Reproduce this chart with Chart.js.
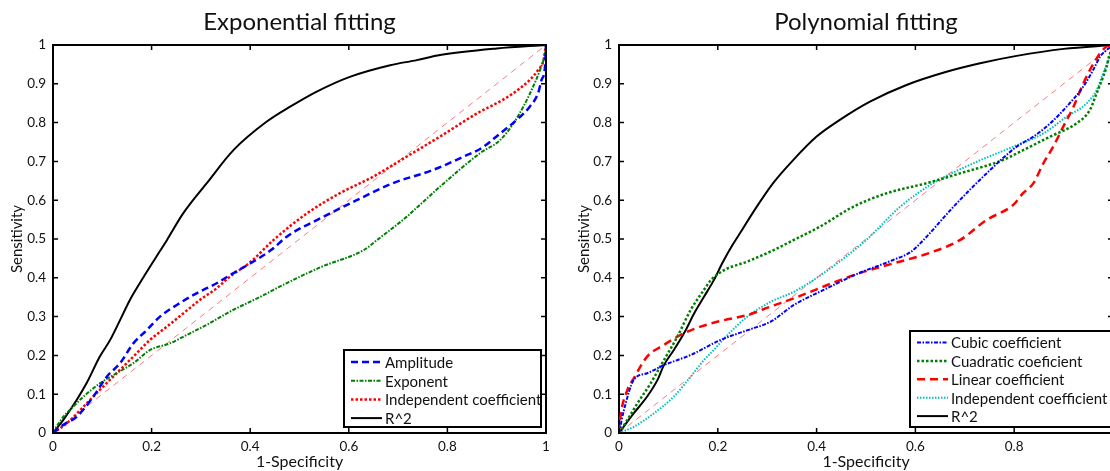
<!DOCTYPE html>
<html>
<head>
<meta charset="utf-8">
<script src="https://cdn.jsdelivr.net/npm/chart.js@4.4.0/dist/chart.umd.min.js"></script>
<style>
  html, body { margin: 0; padding: 0; background: #fff; overflow: hidden; }
  .box { position: absolute; top: 0; height: 471px; }
  #left { left: 0; width: 560px; }
  #right { left: 560px; width: 560px; }
</style>
</head>
<body>
<div class="box" id="left"><canvas id="expChart"></canvas></div>
<div class="box" id="right"><canvas id="polyChart"></canvas></div>
<script>
// tick values
var xTicks = [0, 0.2, 0.4, 0.6, 0.8, 1];
var yTicks = [0, 0.1, 0.2, 0.3, 0.4, 0.5, 0.6, 0.7, 0.8, 0.9, 1];
var diagonal = [[0, 0], [1, 1]];

// exponential fitting curves [1-specificity, sensitivity]
var expAmplitude = [[0,0],[0.021,0.021],[0.048,0.042],[0.082,0.094],[0.109,0.145],[0.136,0.18],[0.163,0.231],[0.19,0.265],[0.217,0.3],[0.251,0.33],[0.291,0.36],[0.332,0.386],[0.359,0.407],[0.4,0.437],[0.443,0.472],[0.474,0.506],[0.548,0.557],[0.616,0.6],[0.69,0.644],[0.771,0.678],[0.834,0.713],[0.87,0.735],[0.905,0.77],[0.945,0.812],[0.967,0.841],[0.984,0.876],[0.991,0.91],[0.998,0.944],[1,1]];
var expExponent = [[0,0],[0.007,0.016],[0.021,0.042],[0.041,0.068],[0.062,0.094],[0.095,0.128],[0.129,0.154],[0.163,0.18],[0.197,0.214],[0.237,0.231],[0.278,0.257],[0.318,0.283],[0.359,0.313],[0.414,0.347],[0.472,0.385],[0.544,0.428],[0.631,0.472],[0.657,0.497],[0.717,0.557],[0.785,0.635],[0.866,0.721],[0.907,0.755],[0.934,0.798],[0.954,0.841],[0.974,0.893],[0.988,0.936],[0.998,0.979],[1,1]];
var expIndependent = [[0,0],[0.028,0.025],[0.062,0.068],[0.095,0.111],[0.129,0.154],[0.163,0.197],[0.197,0.24],[0.231,0.274],[0.264,0.308],[0.298,0.343],[0.332,0.373],[0.359,0.403],[0.4,0.44],[0.447,0.497],[0.515,0.566],[0.582,0.618],[0.65,0.661],[0.717,0.712],[0.785,0.764],[0.866,0.828],[0.9,0.85],[0.934,0.876],[0.967,0.91],[0.984,0.936],[0.995,0.961],[1,1]];
var expR2 = [[0,0],[0.021,0.034],[0.048,0.085],[0.068,0.128],[0.095,0.197],[0.116,0.24],[0.136,0.291],[0.156,0.343],[0.176,0.386],[0.197,0.429],[0.215,0.465],[0.231,0.497],[0.264,0.566],[0.312,0.644],[0.366,0.729],[0.433,0.802],[0.481,0.841],[0.535,0.88],[0.602,0.918],[0.684,0.948],[0.738,0.961],[0.785,0.974],[0.9,0.991],[1,1]];

// polynomial fitting curves
var polyCubic = [[0,0],[0.01,0.059],[0.03,0.137],[0.057,0.154],[0.091,0.175],[0.145,0.201],[0.206,0.24],[0.26,0.265],[0.307,0.287],[0.354,0.33],[0.413,0.368],[0.484,0.411],[0.555,0.446],[0.591,0.467],[0.616,0.497],[0.677,0.583],[0.744,0.669],[0.805,0.738],[0.839,0.764],[0.873,0.798],[0.906,0.841],[0.94,0.893],[0.96,0.936],[0.974,0.97],[0.991,0.991],[1,1]];
var polyQuadratic = [[0,0],[0.017,0.034],[0.037,0.076],[0.064,0.128],[0.091,0.188],[0.118,0.248],[0.145,0.317],[0.172,0.369],[0.186,0.394],[0.213,0.42],[0.26,0.442],[0.314,0.472],[0.353,0.497],[0.407,0.532],[0.474,0.583],[0.542,0.618],[0.623,0.644],[0.69,0.669],[0.778,0.704],[0.818,0.729],[0.873,0.764],[0.926,0.798],[0.953,0.832],[0.967,0.876],[0.98,0.918],[0.987,0.944],[0.991,0.966],[1,1]];
var polyLinear = [[0,0],[0.003,0.042],[0.017,0.111],[0.03,0.141],[0.057,0.197],[0.091,0.227],[0.125,0.253],[0.165,0.274],[0.213,0.291],[0.26,0.304],[0.307,0.326],[0.354,0.347],[0.413,0.377],[0.484,0.411],[0.555,0.437],[0.626,0.463],[0.69,0.497],[0.744,0.549],[0.798,0.588],[0.818,0.618],[0.839,0.644],[0.859,0.695],[0.879,0.738],[0.899,0.789],[0.92,0.841],[0.94,0.901],[0.957,0.944],[0.974,0.979],[0.987,0.996],[1,1]];
var polyIndependent = [[0,0],[0.03,0.016],[0.071,0.051],[0.111,0.094],[0.145,0.145],[0.172,0.188],[0.192,0.214],[0.213,0.244],[0.26,0.3],[0.307,0.338],[0.354,0.364],[0.413,0.411],[0.5,0.497],[0.569,0.583],[0.636,0.644],[0.717,0.695],[0.798,0.738],[0.859,0.772],[0.906,0.815],[0.947,0.85],[0.967,0.884],[0.98,0.927],[0.991,0.961],[1,1]];
var polyR2 = [[0,0],[0.03,0.051],[0.057,0.094],[0.078,0.137],[0.091,0.175],[0.111,0.214],[0.135,0.265],[0.152,0.308],[0.172,0.351],[0.192,0.394],[0.21,0.44],[0.23,0.485],[0.25,0.525],[0.272,0.57],[0.312,0.644],[0.353,0.704],[0.4,0.764],[0.447,0.807],[0.508,0.854],[0.582,0.897],[0.663,0.931],[0.731,0.953],[0.805,0.972],[0.9,0.99],[1,1]];

var FONT = 'Lato, "Open Sans", sans-serif';

function pts(arr) {
    return arr.map(function (p) { return { x: p[0], y: p[1] }; });
}

function line(label, arr, color, width, dash) {
    return {
        label: label,
        data: pts(arr),
        borderColor: color,
        borderWidth: width,
        borderDash: dash,
        pointRadius: 0,
        cubicInterpolationMode: 'monotone',
        fill: false
    };
}

// box round the plot with inward ticks + legend box inside
var framePlugin = {
    id: 'frame',
    afterDraw: function (chart, args, opts) {
        var ctx = chart.ctx;
        var a = chart.chartArea;
        var xs = chart.scales.x, ys = chart.scales.y;
        ctx.save();
        ctx.strokeStyle = '#000';
        ctx.lineWidth = 2;
        ctx.beginPath();
        ctx.moveTo(a.left, a.top); ctx.lineTo(a.right, a.top); ctx.lineTo(a.right, a.bottom);
        ctx.stroke();
        ctx.lineWidth = 1.5;
        ctx.beginPath();
        xTicks.forEach(function (v) {
            var px = xs.getPixelForValue(v);
            ctx.moveTo(px, a.bottom); ctx.lineTo(px, a.bottom - 5);
            ctx.moveTo(px, a.top); ctx.lineTo(px, a.top + 5);
        });
        yTicks.forEach(function (v) {
            var py = ys.getPixelForValue(v);
            ctx.moveTo(a.left, py); ctx.lineTo(a.left + 5, py);
            ctx.moveTo(a.right, py); ctx.lineTo(a.right - 5, py);
        });
        ctx.stroke();

        // legend
        var L = opts;
        ctx.fillStyle = '#fff';
        ctx.fillRect(L.x, L.y, L.w, L.h);
        ctx.lineWidth = 2;
        ctx.strokeStyle = '#000';
        ctx.setLineDash([]);
        ctx.strokeRect(L.x, L.y, L.w, L.h);
        ctx.font = '15px ' + FONT;
        ctx.textBaseline = 'middle';
        ctx.textAlign = 'left';
        var items = chart.data.datasets.filter(function (d) { return d.label; });
        items.forEach(function (d, i) {
            var y = L.y + L.first + i * L.step;
            ctx.beginPath();
            ctx.setLineDash(d.borderDash || []);
            ctx.strokeStyle = d.borderColor;
            ctx.lineWidth = d.borderWidth;
            ctx.moveTo(L.x + 7, y); ctx.lineTo(L.x + 38, y);
            ctx.stroke();
            ctx.setLineDash([]);
            ctx.fillStyle = '#111';
            ctx.fillText(d.label, L.x + 41, y + 1);
        });
        ctx.restore();
    }
};

function tickLabel(v) {
    return String(Math.round(v * 10) / 10);
}

function makeOptions(title, yWidth, yTitlePad, rightPad, legend) {
    return {
        responsive: true,
        maintainAspectRatio: false,
        animation: false,
        layout: { padding: { left: 0, right: rightPad, top: 0, bottom: 0 } },
        plugins: {
            legend: { display: false },
            tooltip: { enabled: false },
            title: {
                display: true,
                text: title,
                fullSize: false,
                color: '#111',
                font: { family: FONT, size: 24, weight: 'normal', lineHeight: 1.2 },
                padding: { top: 8, bottom: 8.2 }
            },
            frame: legend
        },
        scales: {
            x: {
                type: 'linear',
                min: 0, max: 1,
                afterFit: function (s) { s.height = 38; s.paddingLeft = 0; s.paddingRight = 0; },
                afterBuildTicks: function (s) { s.ticks = xTicks.map(function (v) { return { value: v }; }); },
                grid: { drawOnChartArea: false, drawTicks: false },
                border: { color: '#000', width: 2 },
                ticks: { color: '#111', padding: 6, font: { family: FONT, size: 13.5 }, callback: tickLabel },
                title: { display: true, text: '1-Specificity', color: '#111', padding: { top: 0, bottom: 0 }, font: { family: FONT, size: 16 } }
            },
            y: {
                min: 0, max: 1,
                afterFit: function (s) { s.width = yWidth; },
                afterBuildTicks: function (s) { s.ticks = yTicks.map(function (v) { return { value: v }; }); },
                grid: { drawOnChartArea: false, drawTicks: false },
                border: { color: '#000', width: 2 },
                ticks: { color: '#111', padding: 7, font: { family: FONT, size: 13.5 }, callback: tickLabel },
                title: { display: true, text: 'Sensitivity', color: '#111', padding: { top: yTitlePad, bottom: 0 }, font: { family: FONT, size: 15 } }
            }
        }
    };
}

var diagColor = '#ff4040';

new Chart(document.getElementById('expChart'), {
    type: 'line',
    data: {
        datasets: [
            line('Amplitude', expAmplitude, '#0000ff', 2.5, [7, 4]),
            line('Exponent', expExponent, '#008000', 2, [4, 1.5, 1.5, 1.5]),
            line('Independent coefficient', expIndependent, '#ff0000', 2.5, [2.5, 2]),
            line('R^2', expR2, '#000000', 2, []),
            line('', diagonal, diagColor, 0.7, [6, 5])
        ]
    },
    options: makeOptions('Exponential fitting', 53, 8, 14, { x: 344, y: 350, w: 197, h: 77, first: 12, step: 18.7 }),
    plugins: [framePlugin]
});

new Chart(document.getElementById('polyChart'), {
    type: 'line',
    data: {
        datasets: [
            line('Cubic coefficient', polyCubic, '#0000ff', 2, [4, 1.5, 1.5, 1.5]),
            line('Cuadratic coeficient', polyQuadratic, '#008000', 2.5, [2.5, 2]),
            line('Linear coefficient', polyLinear, '#ff0000', 2.5, [8, 5]),
            line('Independent coefficient', polyIndependent, '#00bfbf', 2, [1.5, 1.5]),
            line('R^2', polyR2, '#000000', 2, []),
            line('', diagonal, diagColor, 0.7, [6, 5])
        ]
    },
    options: makeOptions('Polynomial fitting', 59, 15, 7, { x: 350, y: 331, w: 205, h: 96, first: 11.5, step: 18.4 }),
    plugins: [framePlugin]
});
</script>
</body>
</html>
